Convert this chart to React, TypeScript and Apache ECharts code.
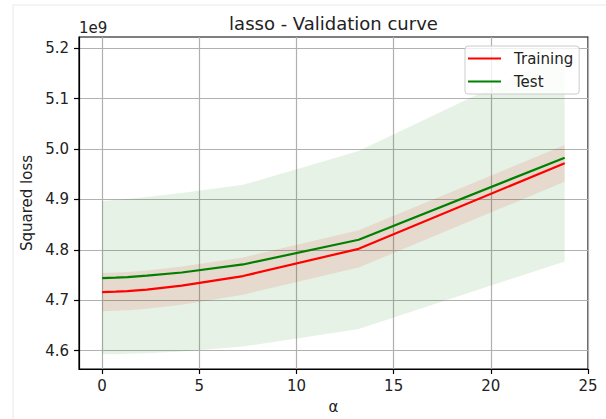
import React, { useEffect, useRef } from "react";
import * as echarts from "echarts";

// alpha values (x) and squared loss (in units of 1e9)
const ALPHA = [0, 0.7, 1.3, 2.3, 4.1, 7.25, 13.2, 23.8];
const TRAIN_MEAN = [4.716, 4.717, 4.718, 4.721, 4.729, 4.748, 4.802, 4.972];
const TRAIN_UPPER = [4.754, 4.755, 4.756, 4.759, 4.767, 4.785, 4.839, 5.008];
const TRAIN_LOWER = [4.678, 4.679, 4.68, 4.683, 4.691, 4.711, 4.765, 4.935];
const TEST_MEAN = [4.744, 4.745, 4.746, 4.749, 4.755, 4.771, 4.82, 4.983];
const TEST_UPPER = [4.897, 4.899, 4.901, 4.905, 4.913, 4.929, 4.996, 5.191];
const TEST_LOWER = [4.593, 4.593, 4.594, 4.595, 4.598, 4.608, 4.643, 4.777];

const X_TICKS = [0, 5, 10, 15, 20, 25];
const Y_TICKS = [4.6, 4.7, 4.8, 4.9, 5.0, 5.1, 5.2];
const SERIES_NAMES = ["Training", "Test"];
const TITLE = "lasso - Validation curve";
const X_NAME = "α";
const Y_NAME = "Squared loss";
const OFFSET_TEXT = "1e9";

const FONT = "DejaVu Sans";
const TXT = "#222222";

const pairs = (xs: number[], ys: number[]) => xs.map((x, i) => [x, ys[i]]);
const triples = (xs: number[], lo: number[], hi: number[]) => xs.map((x, i) => [x, lo[i], hi[i]]);

function bandSeries(name: string, xs: number[], lo: number[], hi: number[], fill: string) {
  return {
    type: "custom",
    name,
    silent: true,
    z: 1,
    data: triples(xs, lo, hi),
    encode: { x: 0, y: [1, 2] },
    renderItem: (params: any, api: any) => {
      if (params.dataIndex !== 0) return null;
      const upper = xs.map((x, i) => api.coord([x, hi[i]]));
      const lower = xs.map((x, i) => api.coord([x, lo[i]])).reverse();
      return {
        type: "polygon",
        shape: { points: upper.concat(lower) },
        style: { fill, stroke: "none" },
      };
    },
  };
}

export default function App() {
  const ref = useRef<HTMLDivElement>(null);
  useEffect(() => {
    if (!ref.current) return;
    const chart = echarts.init(ref.current, undefined, { renderer: "svg" });
    const axisCommon = {
      axisLine: { show: true, onZero: false, lineStyle: { color: "#000", width: 1.2 } },
      axisTick: { show: true, length: 5, lineStyle: { color: "#000", width: 1.2 } },
      splitLine: { show: true, lineStyle: { color: "#b0b0b0", width: 1.2 } },
    };
    chart.setOption({
      animation: false,
      grid: {
        left: 79,
        right: 18,
        top: 37,
        bottom: 50,
        show: true,
        borderColor: "#000",
        borderWidth: 1.2,
        containLabel: false,
        outerBoundsMode: "none",
      },
      graphic: [
        { type: "line", shape: { x1: 13, y1: 5, x2: 606, y2: 5 }, style: { stroke: "#e8e8e8", lineWidth: 1 }, silent: true },
        { type: "line", shape: { x1: 13, y1: 5, x2: 13, y2: 419 }, style: { stroke: "#e8e8e8", lineWidth: 1 }, silent: true },
        {
          type: "text",
          x: 333.5,
          y: 14,
          style: { text: TITLE, fontSize: 18, fontFamily: FONT, fill: TXT, align: "center", verticalAlign: "top" },
        },
        {
          type: "text",
          x: 79,
          y: 35,
          style: { text: OFFSET_TEXT, fontSize: 15, fontFamily: FONT, fill: TXT, align: "left", verticalAlign: "bottom" },
        },
      ],
      legend: {
        data: SERIES_NAMES,
        orient: "vertical",
        left: 465,
        top: 46,
        padding: [5, 6, 5, 3],
        itemGap: 8,
        itemWidth: 33,
        itemHeight: 2,
        icon: "rect",
        backgroundColor: "rgba(255,255,255,0.8)",
        borderColor: "#cccccc",
        borderWidth: 1,
        borderRadius: 3,
        textStyle: { fontSize: 15, fontFamily: FONT, color: TXT, padding: [0, 0, 0, 8] },
      },
      xAxis: {
        type: "value",
        min: -1.19,
        max: 25,
        name: X_NAME,
        nameLocation: "middle",
        nameGap: 30,
        nameTextStyle: { fontSize: 15, fontFamily: FONT, color: TXT },
        ...axisCommon,
        axisTick: { ...axisCommon.axisTick, customValues: X_TICKS },
        axisLabel: { customValues: X_TICKS, fontSize: 15, fontFamily: FONT, color: TXT, margin: 9 },
      },
      yAxis: {
        type: "value",
        min: 4.5635,
        max: 5.2225,
        name: Y_NAME,
        nameLocation: "middle",
        nameGap: 44,
        nameTextStyle: { fontSize: 15, fontFamily: FONT, color: TXT },
        ...axisCommon,
        axisTick: { ...axisCommon.axisTick, customValues: Y_TICKS },
        axisLabel: {
          customValues: Y_TICKS,
          fontSize: 15,
          fontFamily: FONT,
          color: TXT,
          margin: 10,
          formatter: (v: number) => v.toFixed(1),
        },
      },
      series: [
        bandSeries("_trainBand", ALPHA, TRAIN_LOWER, TRAIN_UPPER, "rgba(255,0,0,0.1)"),
        bandSeries("_testBand", ALPHA, TEST_LOWER, TEST_UPPER, "rgba(0,128,0,0.1)"),
        {
          type: "line",
          name: SERIES_NAMES[0],
          data: pairs(ALPHA, TRAIN_MEAN),
          symbol: "none",
          color: "#ff0000",
          lineStyle: { color: "#ff0000", width: 2.2 },
          z: 3,
        },
        {
          type: "line",
          name: SERIES_NAMES[1],
          data: pairs(ALPHA, TEST_MEAN),
          symbol: "none",
          color: "#008000",
          lineStyle: { color: "#008000", width: 2.2 },
          z: 3,
        },
      ],
    });
    return () => chart.dispose();
  }, []);
  return (
    <div
      ref={ref}
      style={{ position: "fixed", left: 0, top: 0, width: 606, height: 419, background: "#fff" }}
    />
  );
}
